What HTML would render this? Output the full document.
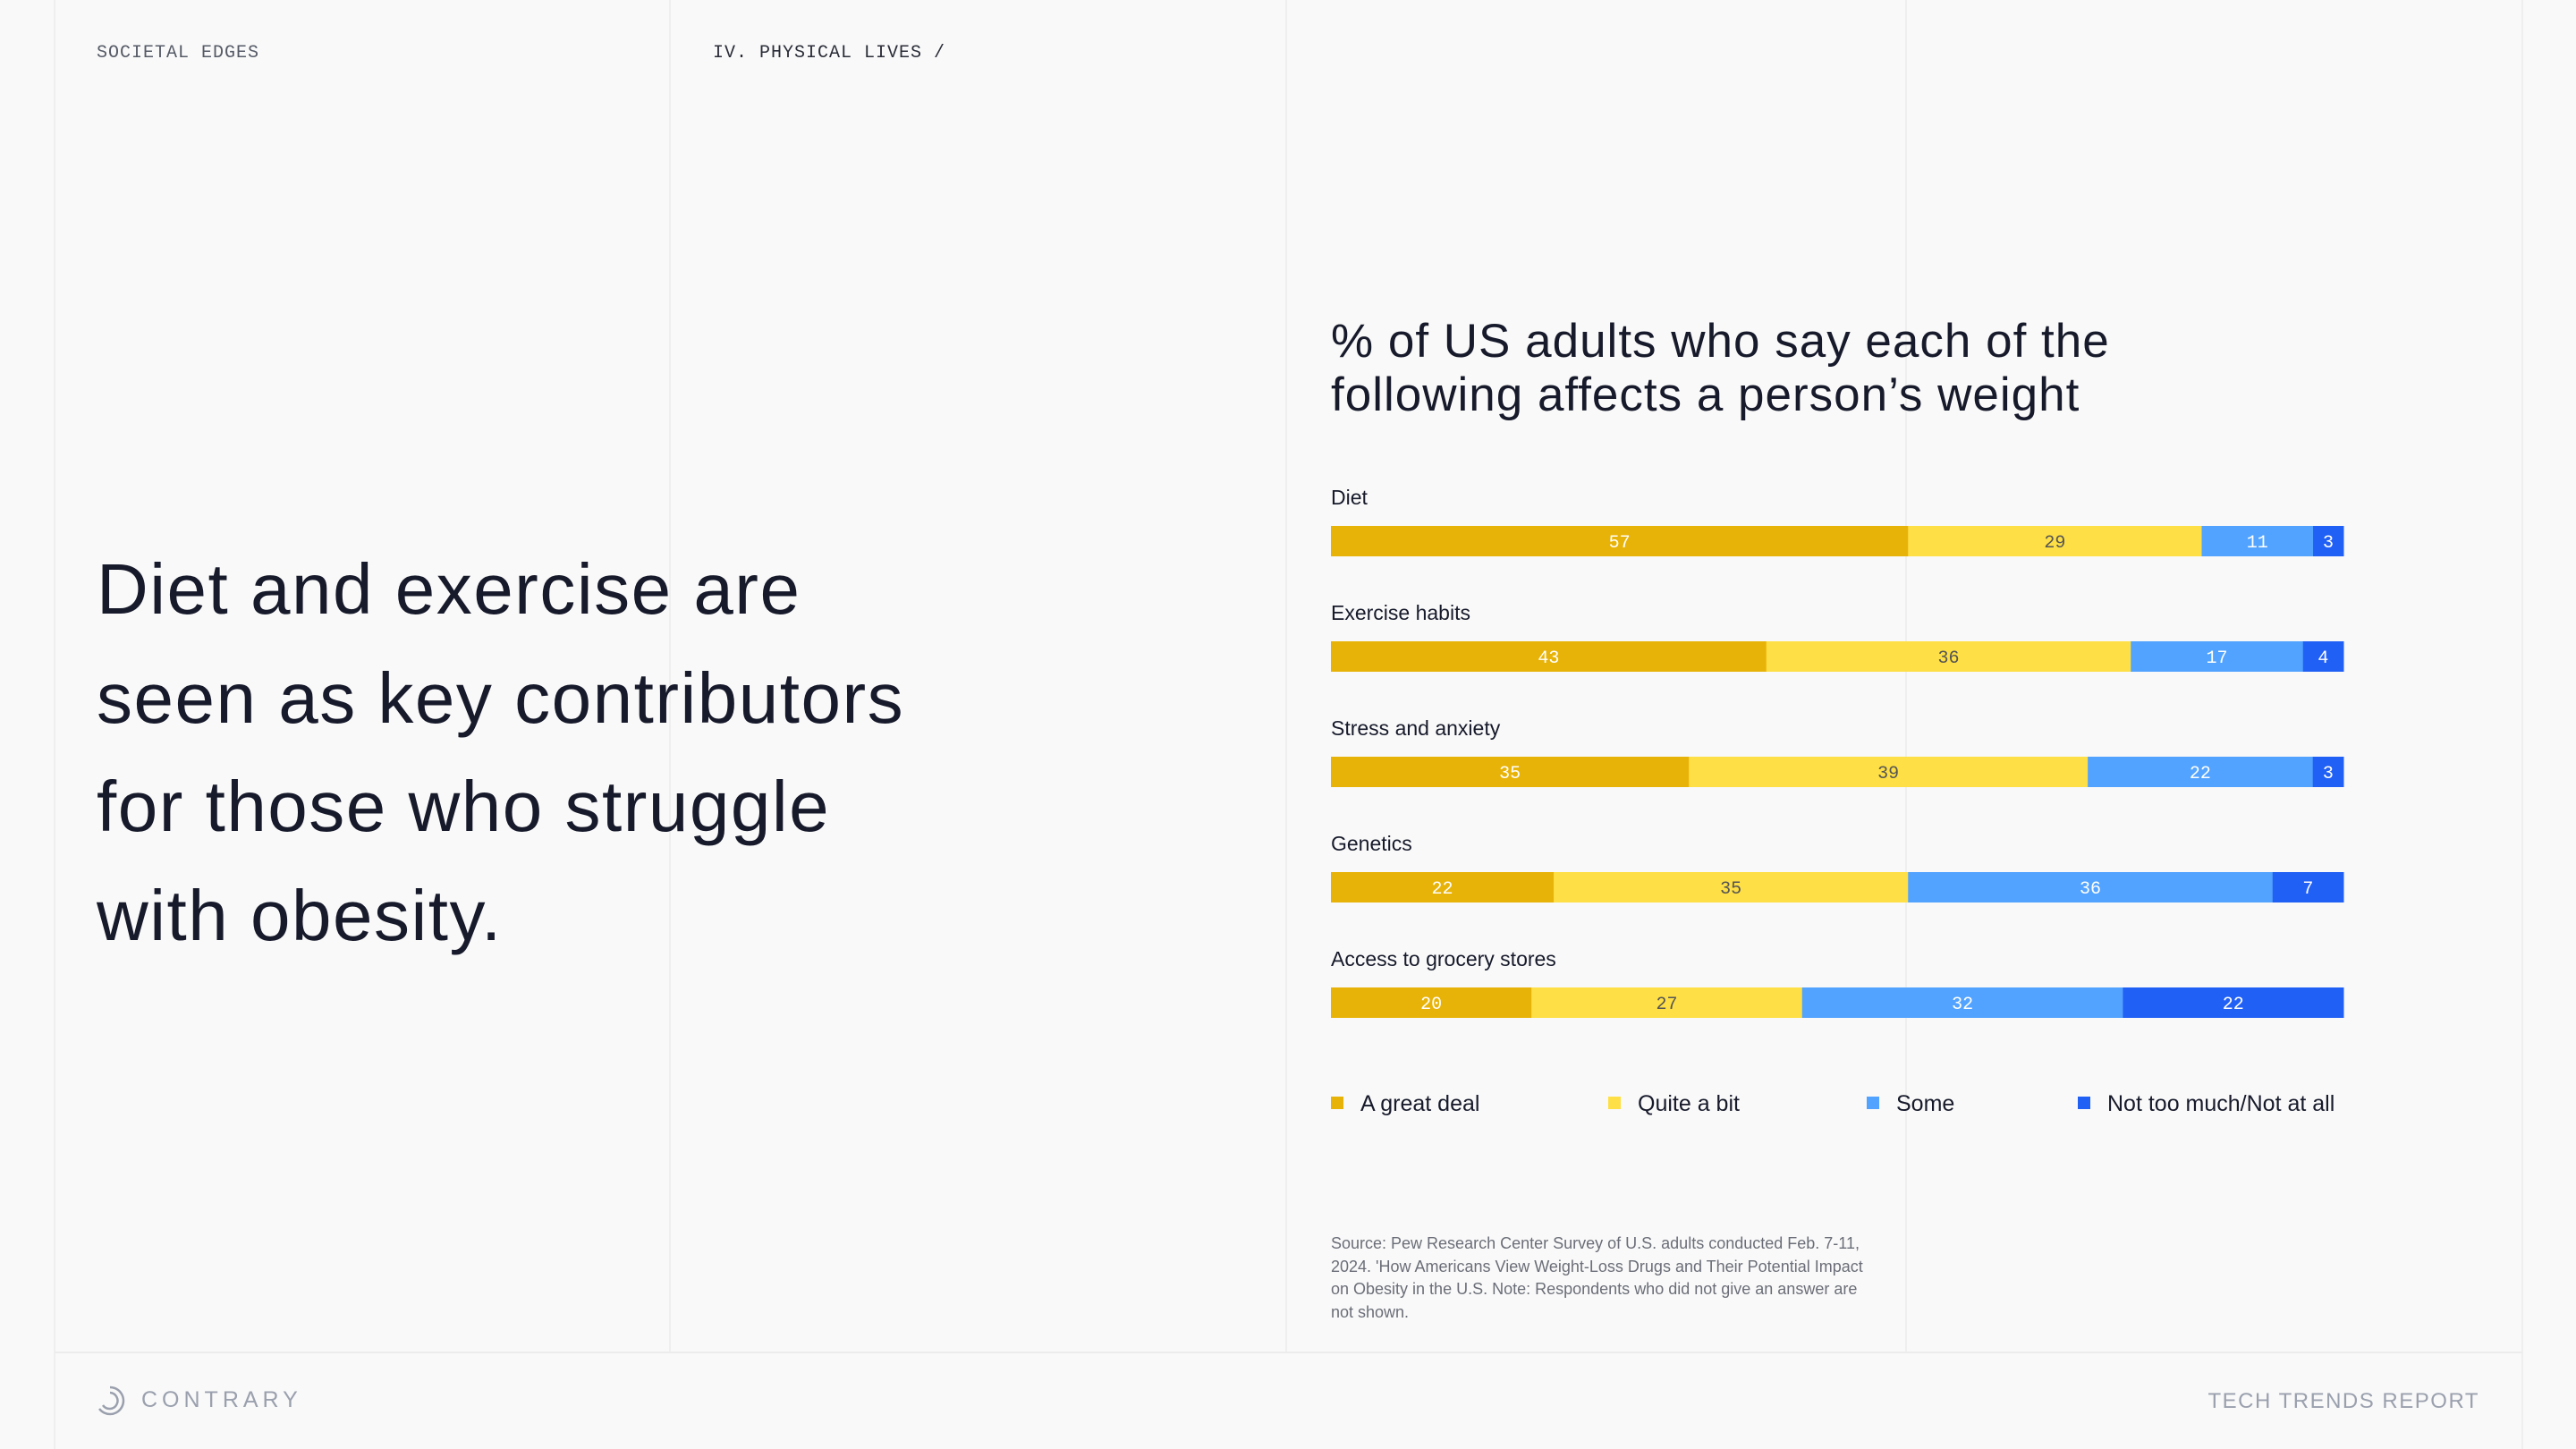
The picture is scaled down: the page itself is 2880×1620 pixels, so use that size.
<!DOCTYPE html>
<html><head><meta charset="utf-8"><style>
html,body{margin:0;padding:0}
body{width:2880px;height:1620px;background:#f9f9f9;position:relative;overflow:hidden;font-family:"Liberation Sans",sans-serif;color:#13151f}
.vl{position:absolute;top:0;height:1512px;width:2px;background:#efefef}
.abs{position:absolute}
.mono{font-family:"Liberation Mono",monospace}
</style></head><body>
<div class="vl" style="left:60px;height:1620px"></div>
<div class="vl" style="left:748px"></div>
<div class="vl" style="left:1437px"></div>
<div class="vl" style="left:2130px"></div>
<div class="vl" style="left:2819px;height:1620px"></div>
<div class="abs" style="left:61px;top:1511px;width:2759px;height:2px;background:#ececec"></div>

<div class="abs mono" style="left:108px;top:48px;font-size:20px;color:#555a66;letter-spacing:1px">SOCIETAL EDGES</div>
<div class="abs mono" style="left:797px;top:48px;font-size:20px;color:#2a2d38;letter-spacing:1px">IV. PHYSICAL LIVES /</div>

<div class="abs" style="left:108px;top:598px;font-size:80px;line-height:121.5px;width:1100px;letter-spacing:1.5px;color:#171a2b">Diet and exercise are<br>seen as key contributors<br>for those who struggle<br>with obesity.</div>

<div class="abs" style="left:1488px;top:352px;font-size:53px;line-height:60px;letter-spacing:1px;color:#171a2b">% of US adults who say each of the<br>following affects a person’s weight</div>

<svg class="abs" style="left:0;top:0" width="2880" height="1620" id="chart"></svg>

<div class="abs" style="left:1488px;top:1378px;font-size:18px;line-height:25.7px;color:#6b6e78;width:600px">Source: Pew Research Center Survey of U.S. adults conducted Feb. 7-11, 2024. 'How Americans View Weight-Loss Drugs and Their Potential Impact on Obesity in the U.S. Note: Respondents who did not give an answer are not shown.</div>

<svg class="abs" style="left:106px;top:1548px" width="34" height="36">
<path d="M17 3 A15 15 0 1 1 5 27" fill="none" stroke="#9aa0ad" stroke-width="2.5"/>
<path d="M17 9 A9 9 0 1 1 9 23" fill="none" stroke="#9aa0ad" stroke-width="2.5"/>
</svg>
<div class="abs" style="left:158px;top:1551px;font-size:25px;letter-spacing:5px;color:#9aa0ad">CONTRARY</div>
<div class="abs" style="right:108px;top:1553px;font-size:24px;letter-spacing:1.5px;color:#9aa0ad">TECH TRENDS REPORT</div>

<script>
const categories=["Diet","Exercise habits","Stress and anxiety","Genetics","Access to grocery stores"];
const greatDeal=[57,43,35,22,20];
const quiteABit=[29,36,39,35,27];
const some=[11,17,22,36,32];
const notMuch=[3,4,3,7,22];
const seriesNames=["A great deal","Quite a bit","Some","Not too much/Not at all"];
const colors=["#e8b308","#fedf45","#52a3ff","#2160f5"];
const textColors=["#ffffff","#555555","#ffffff","#ffffff"];
const NS="http://www.w3.org/2000/svg";
const svg=document.getElementById('chart');
const x0=1488,W=1132,y0=588,step=129,bh=34;
const series=[greatDeal,quiteABit,some,notMuch];
function xs(v,total){return v/total*W;}
function yb(i){return y0+i*step;}
categories.forEach((c,i)=>{
  const lab=document.createElementNS(NS,'text');
  lab.setAttribute('x',x0);lab.setAttribute('y',yb(i)-24);
  lab.setAttribute('font-size','23');lab.setAttribute('fill','#171a2b');
  lab.setAttribute('font-family','Liberation Sans, sans-serif');
  lab.textContent=c;
  
  
  svg.appendChild(lab);
  const total=series.reduce((s,a)=>s+a[i],0);
  let acc=0;
  series.forEach((arr,k)=>{
    const v=arr[i];
    const r=document.createElementNS(NS,'rect');
    r.setAttribute('x',x0+xs(acc,total));r.setAttribute('y',yb(i));
    r.setAttribute('width',xs(v,total)+0.5);r.setAttribute('height',bh);
    r.setAttribute('fill',colors[k]);
    
    
    svg.appendChild(r);
    const t=document.createElementNS(NS,'text');
    t.setAttribute('x',x0+xs(acc+v/2,total));t.setAttribute('y',yb(i)+bh/2+7);
    t.setAttribute('text-anchor','middle');t.setAttribute('font-size','20');
    t.setAttribute('font-family','Liberation Mono, monospace');
    t.setAttribute('fill',textColors[k]);
    t.textContent=v;
    
    
    svg.appendChild(t);
    acc+=v;
  });
});
const legendX=[1488,1798,2087,2323];
seriesNames.forEach((n,k)=>{
  const r=document.createElementNS(NS,'rect');
  r.setAttribute('x',legendX[k]);r.setAttribute('y',1226);r.setAttribute('width',14);r.setAttribute('height',14);
  r.setAttribute('fill',colors[k]);
  
  
  svg.appendChild(r);
  const t=document.createElementNS(NS,'text');
  t.setAttribute('x',legendX[k]+33);t.setAttribute('y',1242);
  t.setAttribute('font-size','25');t.setAttribute('fill','#171a2b');
  t.setAttribute('font-family','Liberation Sans, sans-serif');
  t.textContent=n;
  
  
  svg.appendChild(t);
});
</script>
</body></html>
